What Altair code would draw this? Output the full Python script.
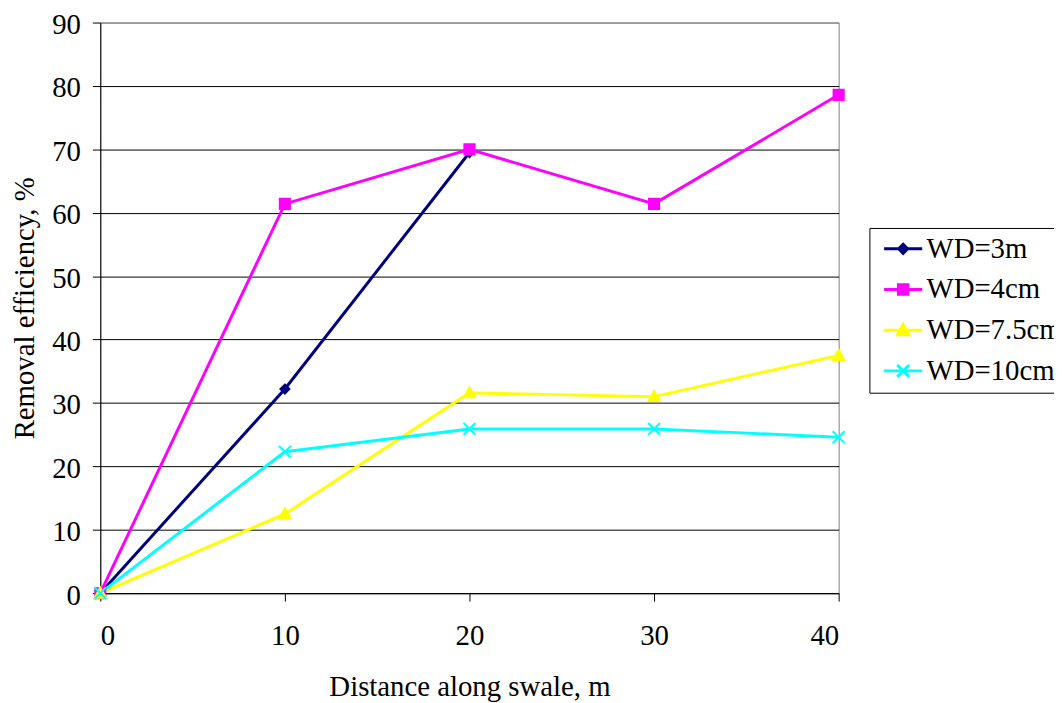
import altair as alt
import pandas as pd

distance = [0, 10, 20, 30, 40]
series_names = ["WD=3m", "WD=4cm", "WD=7.5cm", "WD=10cm"]
wd_3m = [0, 32.2, 69.5]
wd_4cm = [0, 61.4, 70.0, 61.4, 78.6]
wd_7_5cm = [0, 12.5, 31.6, 31.0, 37.5]
wd_10cm = [0, 22.3, 25.9, 25.9, 24.6]
colors = ["#000080", "#FF00FF", "#FFFF00", "#00FFFF"]

marker_paths = [
    "M0,-0.75L0.75,0L0,0.75L-0.75,0Z",
    "M-0.85,-0.85H0.85V0.85H-0.85Z",
    "M0,-0.95L0.95,0.75L-0.95,0.75Z",
    "M-1,-1L1,1M-1,1L1,-1",
]
legend_paths = [
    "M-3.2,0H3.2M0,-0.75L0.75,0L0,0.75L-0.75,0Z",
    "M-3.2,0H3.2M-0.8,-0.8H0.8V0.8H-0.8Z",
    "M-3.2,0H3.2M0,-0.95L0.95,0.75L-0.95,0.75Z",
    "M-3.2,0H3.2M-1,-1L1,1M-1,1L1,-1",
]

rows = []
for name, vals in zip(series_names, [wd_3m, wd_4cm, wd_7_5cm, wd_10cm]):
    for i, v in enumerate(vals):
        rows.append({"series": name, "x": distance[i], "y": v})
df = pd.DataFrame(rows)

FONT = "Liberation Serif, Times New Roman, serif"
FS = 29

cscale = alt.Scale(domain=series_names, range=colors)

x_enc = alt.X(
    "x:Q",
    scale=alt.Scale(domain=[0, 40], nice=False),
    axis=alt.Axis(
        values=distance, title="Distance along swale, m", grid=False,
        titleY=94, titleBaseline="middle", labelPadding=21,
    ),
)
y_enc = alt.Y(
    "y:Q",
    scale=alt.Scale(domain=[0, 90], nice=False),
    axis=alt.Axis(
        values=list(range(0, 91, 10)), title="Removal efficiency, %", grid=True,
        gridColor={"condition": {"test": "datum.value === 90", "value": "#808080"}, "value": "#000000"},
        titleX=-76, titleY=287.5, titleBaseline="middle", labelPadding=12, labelOffset=2,
    ),
)

base = alt.Chart(df)

lines = base.mark_line(strokeWidth=3).encode(
    x=x_enc, y=y_enc,
    color=alt.Color("series:N", scale=cscale, legend=None),
    order="x:Q",
)

points = base.mark_point(filled=True, size=144, opacity=1, strokeWidth=2).encode(
    x=x_enc, y=y_enc,
    color=alt.Color("series:N", scale=cscale, legend=None),
    stroke=alt.Stroke("series:N", scale=cscale, legend=None),
    shape=alt.Shape("series:N", scale=alt.Scale(domain=series_names, range=marker_paths), legend=None),
)

leg = alt.Legend(
    title=None, orient="none", legendX=775, legendY=207,
    labelFont=FONT, labelFontSize=FS, labelColor="black",
    strokeColor="black", fillColor="white", padding=6.5,
    rowPadding=11, symbolOffset=13, labelOffset=9,
    symbolSize=144, symbolStrokeWidth=3, symbolOpacity=1,
)

legend_layer = base.transform_filter("false").mark_point(filled=True, size=144, strokeWidth=3).encode(
    x=x_enc, y=y_enc,
    color=alt.Color("series:N", scale=cscale, legend=leg),
    stroke=alt.Stroke("series:N", scale=cscale, legend=leg),
    shape=alt.Shape("series:N", scale=alt.Scale(domain=series_names, range=legend_paths), legend=leg),
)

chart = alt.layer(lines, points, legend_layer).resolve_scale(
    color="independent", shape="independent", stroke="independent"
).properties(
    width=744, height=575,
    autosize=alt.AutoSizeParams(type="none"),
    padding={"left": 93, "top": 12, "right": 217, "bottom": 108},
).configure_view(
    stroke="#808080", strokeWidth=1
).configure_axis(
    labelFont=FONT, labelFontSize=FS, labelColor="black",
    titleFont=FONT, titleFontSize=FS, titleColor="black", titleFontWeight="normal",
    domainColor="black", tickColor="black", tickSize=8, domainWidth=1, tickWidth=1,
    gridWidth=1,
)

chart.save("out.html", embed_options={"renderer": "svg", "actions": False})
